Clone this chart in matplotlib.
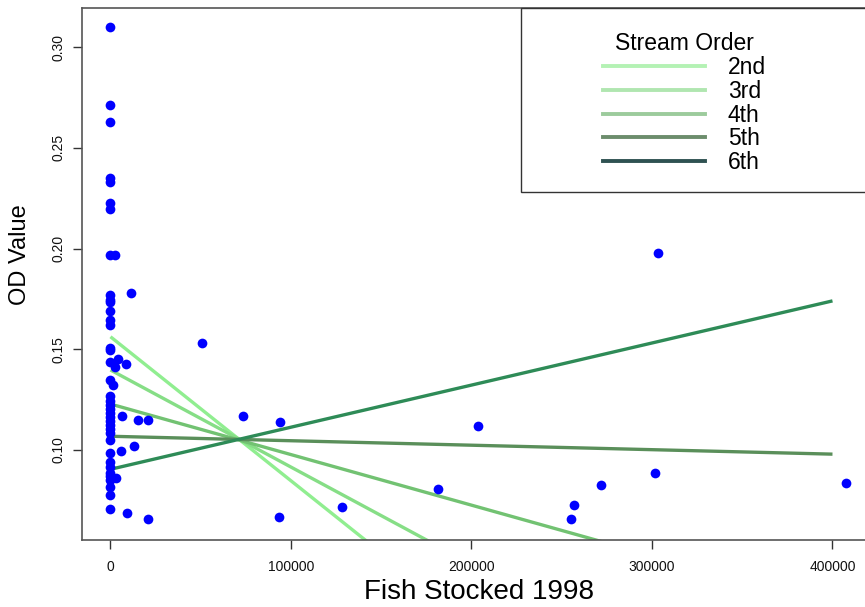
import numpy as np
import matplotlib
matplotlib.use("Agg")
import matplotlib.pyplot as plt
from matplotlib.patches import Rectangle

plt.rcParams["font.family"] = ["Liberation Sans", "DejaVu Sans"]

# %% data
fish_stocked = [0, 0, 0, 0, 0, 0, 0, 0, 2500, 0, 0, 0, 0, 0, 0, 0,
                11400, 0, 0, 4300, 8400, 2500, 0, 1400,
                0, 0, 0, 0, 0, 0, 0, 0, 0, 0, 0,
                6200, 15400, 21000, 5600, 13000,
                0, 0, 0, 0, 0, 0, 0, 2900, 0, 0, 9000, 20600,
                50500, 73200, 93900, 93500, 128300,
                181300, 203600, 255100, 257000, 271700, 301800, 303500, 407300]
od_value = [0.310, 0.2710, 0.2630, 0.2350, 0.2330, 0.2228, 0.2198, 0.1968, 0.1968, 0.1770, 0.1745, 0.1736, 0.1689, 0.1647, 0.1620, 0.1506,
            0.1778, 0.1495, 0.1438, 0.1450, 0.1429, 0.1411, 0.1348, 0.1320,
            0.1268, 0.1245, 0.1225, 0.1205, 0.1185, 0.1165, 0.1145, 0.1125, 0.1105, 0.1085, 0.1050,
            0.1169, 0.1149, 0.1149, 0.0997, 0.1020,
            0.0987, 0.0942, 0.0917, 0.0884, 0.0851, 0.0818, 0.0777, 0.0859, 0.0707, 0.0870, 0.0689, 0.0657,
            0.1530, 0.1169, 0.1138, 0.0667, 0.0717,
            0.0808, 0.1119, 0.0657, 0.0727, 0.0828, 0.0887, 0.1980, 0.0838]

stream_orders = ["2nd", "3rd", "4th", "5th", "6th"]
intercepts = [0.1562, 0.1397, 0.1228, 0.1068, 0.0904]
slopes = [-7.15e-7, -4.82e-7, -2.51e-7, -2.22e-8, 2.09e-7]
line_colors = ["#90ee90", "#86de86", "#72c272", "#5a8f5a", "#2e8b57"]
legend_colors = ["#b4f2b4", "#b0e6b0", "#9ccb9c", "#6c8d6c", "#2f5252"]

x_ticks = [0, 100000, 200000, 300000, 400000]
y_ticks = [0.10, 0.15, 0.20, 0.25, 0.30]

# %%
fig = plt.figure(figsize=(8.65, 6.07), dpi=100)
W, H = 865, 607
left, right, top, bottom = 81.6, 875.8, 8, 540
ax = fig.add_axes([left / W, (H - bottom) / H, (right - left) / W, (bottom - top) / H])

ax.plot(fish_stocked, od_value, "o", color="blue", markersize=7,
        markeredgewidth=0, zorder=3)

x_fit = np.array([0, 400000])
for b0, b1, col in zip(intercepts, slopes, line_colors):
    ax.plot(x_fit, b0 + b1 * x_fit, color=col, linewidth=2.4, zorder=2,
            solid_capstyle="butt")

ax.set_xlim(-16000, 424000)
ax.set_ylim(0.0553, 0.3194)

ax.set_xticks(x_ticks)
ax.set_xticklabels([str(t) for t in x_ticks])
ax.set_yticks(y_ticks)
ax.set_yticklabels(["%.2f" % t for t in y_ticks], rotation=90, va="center")
ax.tick_params(axis="both", direction="out", length=6.5, width=1,
               color="#333333", labelsize=10, labelcolor="#111111")
ax.tick_params(axis="x", pad=7.6)
ax.tick_params(axis="y", pad=5)

for s in ax.spines.values():
    s.set_color("#555555")
    s.set_linewidth(1.2)

ax.set_xlabel("Fish Stocked 1998", fontsize=20, labelpad=3.6)
ax.set_ylabel("OD Value", fontsize=17, va="center")
ax.yaxis.set_label_coords((20 - left) / (right - left), (bottom - 255) / (bottom - top))

# legend box, like R's legend("topright")
ax.add_patch(Rectangle((0.5533, 0.654), 0.5, 0.346, transform=ax.transAxes,
                       facecolor="white", edgecolor="#333333", linewidth=1,
                       clip_on=False, zorder=4))
handles = [plt.Line2D([], [], color=c, linewidth=2.8) for c in legend_colors]
leg = ax.legend(handles, stream_orders, title="Stream Order", frameon=False,
                loc="upper left", bbox_to_anchor=(603 / W, 1 - 32 / H),
                bbox_transform=fig.transFigure, fontsize=16.5, title_fontsize=16.5,
                handlelength=4.45, handletextpad=1.0, labelspacing=0.03,
                borderpad=0, borderaxespad=0)
leg._legend_box.sep = 1
leg.set_zorder(5)

plt.savefig("out.png", dpi=100)
